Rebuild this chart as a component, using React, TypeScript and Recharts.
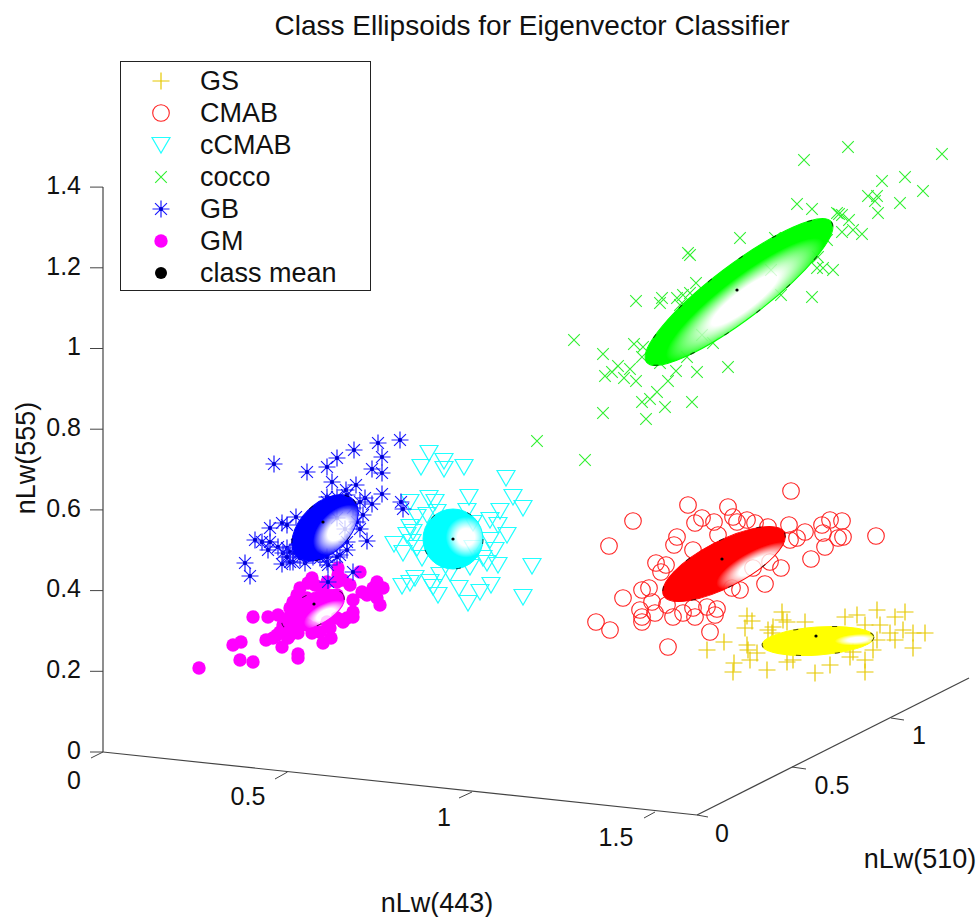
import React from 'react';
import { ScatterChart, Scatter, XAxis, YAxis, ReferenceLine, ReferenceDot, Legend } from 'recharts';

// Values are read from the picture, in the projected plane of the 3-D view:
// [across, up] from the axes' origin, in 1/403.5 of an nLw unit.
const UNIT = 403.5;
const gsPts = [[604,102],[621,110],[644,136],[649,131],[642,124],[679,140],[670,125],[665,122],[684,130],[702,130],[742,135],[754,137],[774,142],[792,135],[802,140],[762,127],[777,127],[787,119],[800,122],[810,119],[822,119],[810,104],[792,112],[774,112],[729,109],[712,114],[770,102],[762,92],[747,95],[727,87],[712,79],[762,80],[690,92],[684,90],[664,82],[647,92],[630,80],[631,89],[645,102],[654,99],[644,107],[680,132],[669,119],[750,100]];
const cmabPts = [[688,261],[585,247],[530,231],[625,245],[599,234],[592,229],[611,230],[630,235],[634,230],[644,232],[652,229],[665,225],[686,227],[727,232],[739,231],[719,227],[702,220],[694,214],[720,219],[773,216],[740,215],[735,214],[722,205],[708,193],[506,206],[574,215],[571,207],[590,202],[615,217],[687,212],[553,189],[563,187],[558,180],[678,184],[667,190],[650,184],[662,168],[629,164],[520,154],[539,162],[546,164],[549,150],[537,142],[564,147],[552,139],[570,135],[580,139],[590,144],[592,135],[604,145],[614,143],[612,137],[539,135],[539,130],[493,130],[507,122],[607,120],[565,105],[637,162]];
const ccmabPts = [[326,299],[341,291],[318,285],[341,283],[361,285],[403,274],[410,255],[366,255],[326,254],[332,250],[307,250],[420,244],[397,241],[364,241],[334,240],[314,235],[307,225],[324,237],[387,232],[395,227],[404,217],[370,229],[291,208],[300,199],[309,210],[314,204],[392,202],[370,204],[387,212],[384,189],[395,187],[429,186],[367,185],[312,174],[299,166],[307,169],[327,170],[337,177],[347,179],[388,167],[335,157],[356,164],[377,160],[365,149],[420,155],[330,165],[380,194],[304,217],[319,194],[310,220]];
const coccoPts = [[839,598],[745,605],[701,592],[802,575],[779,571],[820,561],[765,556],[774,556],[772,551],[797,549],[775,539],[694,548],[709,543],[736,538],[734,539],[739,537],[746,532],[739,520],[750,522],[759,518],[637,514],[672,514],[724,512],[585,499],[587,497],[715,495],[714,484],[720,484],[730,482],[668,482],[593,469],[709,455],[678,457],[533,451],[559,454],[557,449],[574,454],[580,457],[587,459],[577,447],[471,412],[599,417],[531,408],[540,405],[539,395],[500,398],[625,385],[515,386],[527,383],[502,376],[509,380],[521,374],[533,371],[573,381],[594,380],[565,371],[554,360],[539,350],[547,353],[562,345],[589,350],[500,339],[543,333],[434,311],[482,292],[584,395],[557,389],[610,409]];
const gbPts = [[297,312],[275,309],[251,302],[279,295],[234,294],[171,288],[224,285],[269,283],[204,280],[279,279],[229,270],[253,267],[243,262],[279,258],[269,248],[262,254],[224,255],[298,250],[300,243],[193,235],[179,229],[167,224],[184,227],[260,237],[234,234],[242,223],[257,223],[152,212],[159,210],[167,210],[264,211],[165,202],[175,205],[184,204],[190,199],[180,199],[179,188],[142,189],[147,176],[190,190],[202,189],[224,190],[225,187],[237,197],[244,210],[250,180],[225,170],[217,194],[187,190],[187,200],[197,194],[210,195],[224,195],[234,195],[244,202],[194,207],[184,195],[250,244],[257,250],[234,255],[244,257],[224,250],[254,230]];
const gmPts = [[96,84],[130,107],[138,110],[137,92],[150,90],[195,94],[195,98],[163,112],[174,117],[179,105],[220,109],[228,114],[150,135],[165,135],[175,137],[194,157],[209,174],[205,169],[235,184],[240,172],[257,180],[274,170],[280,164],[259,160],[277,147],[244,134],[250,152],[234,157],[220,164],[209,119],[195,119],[224,130],[234,134],[189,130],[187,144],[197,150],[177,120],[185,114],[204,127],[224,170],[234,170],[247,167],[204,154],[190,150],[220,154],[250,140],[264,157],[270,164],[240,130],[227,124],[217,120],[210,124],[180,127],[187,117],[170,114],[197,127],[250,135],[274,154],[235,177],[212,167],[197,164]];
const meanPts = [[713,116],[619,193],[350,213],[634,462],[220,230],[211,148]];

const classNames = ['GS', 'CMAB', 'cCMAB', 'cocco', 'GB', 'GM', 'class mean'];
const ellipseCentres = [[715,111],[621,188],[350,213],[636,460],[222,224],[210,142]];
const ellipseColors = ['#ffff00', '#ff0000', '#00ffff', '#00ff00', '#0000ff', '#ff00ff'];
const ellipseRadii = [[56,14],[68,23],[30,30],[116,27],[40,24.5],[34,16]];
const ellipseAngles = [4,27.5,0,37.2,45,26];
const ellipseGlows = [[0.85,0.55,0.2],[0.7,0.85,0.32],[0.72,0.47,0.34],[0.5,0.68,0.42],[0.6,0.72,0.38],[0.64,0.81,0.35]];

const zTicks = [0, 0.2, 0.4, 0.6, 0.8, 1, 1.2, 1.4];
const axisLines = [[[0,0],[594,-63]],[[594,-63],[866,74]]];
const axisTicks = [[[0,0],[-12,-6]],[[184.5,-20],[172,-27]],[[369,-40],[356,-46]],[[552,-60],[541,-66]],[[594,-63],[605,-65]],[[689,-15],[703,-17]],[[788,34],[801,32]]];
const sideTickLabels = [['0',-29,-28],['0.5',145,-44],['1',341,-65],['1.5',513,-85],['0',619,-81],['0.5',729,-33],['1',816,17]];
const axisTitles = [['nLw(443)',334,-150,0],['nLw(510)',817,-106,0],['nLw(555)',-78,294,-90]];
const titleText = 'Class Ellipsoids for Eigenvector Classifier';

const toRows = (pts: number[][]) => pts.map(([a, b]) => ({ u: a / UNIT, v: b / UNIT }));
const FONT = '"Liberation Sans", Arial, sans-serif';
const INK = '#111';

const Plus = ({ cx, cy, c = '#e6c800', s = 8.5 }: any) => (
  <path d={`M${cx - s} ${cy}H${cx + s}M${cx} ${cy - s}V${cy + s}`} stroke={c} strokeWidth={1.2} fill="none" />
);
const Ring = ({ cx, cy, c = '#ff2020', r = 8.3 }: any) => <circle cx={cx} cy={cy} r={r} stroke={c} strokeWidth={1.1} fill="none" />;
const Tri = ({ cx, cy, c = '#20ffff' }: any) => (
  <path d={`M${cx - 9} ${cy - 7.5}H${cx + 9}L${cx} ${cy + 8}Z`} stroke={c} strokeWidth={1.2} fill="none" />
);
const Cross = ({ cx, cy, c = '#30f030', s = 5.8 }: any) => (
  <path d={`M${cx - s} ${cy - s}L${cx + s} ${cy + s}M${cx - s} ${cy + s}L${cx + s} ${cy - s}`} stroke={c} strokeWidth={1.1} fill="none" />
);
const Star = ({ cx, cy, c = '#1a1aff', s = 8.5 }: any) => {
  const d = s * 0.7;
  return (
    <g>
      <path
        d={`M${cx - s} ${cy}H${cx + s}M${cx} ${cy - s}V${cy + s}M${cx - d} ${cy - d}L${cx + d} ${cy + d}M${cx - d} ${cy + d}L${cx + d} ${cy - d}`}
        stroke={c} strokeWidth={1.2} fill="none"
      />
      <circle cx={cx} cy={cy} r={2} fill="#0000d0" />
    </g>
  );
};
const Dot = ({ cx, cy, c = '#ff00ff', r = 6.7 }: any) => <circle cx={cx} cy={cy} r={r} fill={c} />;
const Mean = ({ cx, cy }: any) => <circle cx={cx} cy={cy} r={1.6} fill="#000" />;

const makeEllipse = (i: number) => (p: any) => {
  const [rx, ry] = ellipseRadii[i];
  const [gx, gy, gr] = ellipseGlows[i];
  const color = ellipseColors[i];
  const id = `glow${i}`;
  return (
    <g transform={`translate(${p.cx},${p.cy}) rotate(${-ellipseAngles[i]})`}>
      <defs>
        <radialGradient id={id} cx={gx} cy={gy} r={gr} fx={gx} fy={gy}>
          <stop offset="0%" stopColor="#ffffff" stopOpacity={0.8} />
          <stop offset="42%" stopColor="#ffffff" stopOpacity={0.8} />
          <stop offset="100%" stopColor={color} stopOpacity={1} />
        </radialGradient>
      </defs>
      <ellipse rx={rx} ry={ry} fill={`url(#${id})`} stroke={color} strokeWidth={1} />
      <ellipse rx={rx} ry={ry} fill="none" stroke="#000" strokeOpacity={0.7} strokeWidth={1} strokeDasharray="5 34" />
    </g>
  );
};

const legendMarks = [Plus, Ring, Tri, Cross, Star, Dot, Dot];

const LegendBox = () => (
  <div
    style={{
      width: 251, height: 230, boxSizing: 'border-box', border: '1px solid #222', background: '#fff',
      position: 'relative',
    }}
  >
    <svg width={249} height={228} style={{ position: 'absolute', left: 0, top: 0 }}>
      {classNames.map((name, i) => {
        const M: any = legendMarks[i];
        const y = 19 + i * 32;
        return i === 6 ? <Dot key={name} cx={40} cy={y} c="#000" r={6} /> : <M key={name} cx={40} cy={y} />;
      })}
      {classNames.map((name, i) => (
        <text key={name} x={79} y={19 + i * 32 + 9} fontSize={27} fontFamily={FONT} fill={INK}>{name}</text>
      ))}
    </svg>
  </div>
);

const seriesList: [string, number[][], any][] = [
  ['GS', gsPts, Plus],
  ['CMAB', cmabPts, Ring],
  ['cCMAB', ccmabPts, Tri],
  ['cocco', coccoPts, Cross],
  ['GM', gmPts, Dot],
  ['GB', gbPts, Star],
];

const inUnits = (p: number[]) => ({ x: p[0] / UNIT, y: p[1] / UNIT });
const label = (value: string, angle = 0, size = 25) => ({
  value, position: 'center' as const, angle, fontSize: size, fill: INK, fontFamily: FONT,
});

export default function App() {
  return (
    <div style={{ position: 'absolute', left: 0, top: 0, width: 976, height: 917, background: '#fff' }}>
      <ScatterChart width={976} height={917} margin={{ top: 0, right: 0, bottom: 0, left: 0 }}>
        <XAxis type="number" dataKey="u" domain={[0, 873 / UNIT]} hide />
        <YAxis
          type="number" dataKey="v" width={103} domain={[-165 / UNIT, 752 / UNIT]} ticks={zTicks}
          axisLine={false} tickSize={13} tickMargin={9} interval={0}
          tickLine={{ stroke: '#444' }} tick={{ fontSize: 25, fill: INK, fontFamily: FONT, dy: -2 }}
        />
        <ReferenceLine segment={[{ x: 0, y: 0 }, { x: 0, y: 1.4 }]} stroke="#444" strokeWidth={1.2} ifOverflow="visible" />
        {axisLines.map((l, i) => (
          <ReferenceLine key={i} segment={[inUnits(l[0]), inUnits(l[1])]} stroke="#444" strokeWidth={1.2} ifOverflow="visible" />
        ))}
        {axisTicks.map((l, i) => (
          <ReferenceLine key={i} segment={[inUnits(l[0]), inUnits(l[1])]} stroke="#444" strokeWidth={1} ifOverflow="visible" />
        ))}
        {seriesList.map(([name, pts, M]) => (
          <Scatter key={name} name={name} data={toRows(pts)} isAnimationActive={false}
            shape={(p: any) => <M cx={p.cx} cy={p.cy} />} />
        ))}
        {ellipseCentres.map((c, i) => (
          <Scatter key={i} name={`ellipse ${classNames[i]}`} data={toRows([c])} isAnimationActive={false} shape={makeEllipse(i)} legendType="none" />
        ))}
        <Scatter name="class mean" data={toRows(meanPts)} isAnimationActive={false} shape={(p: any) => <Mean cx={p.cx} cy={p.cy} />} />
        {sideTickLabels.map(([t, a, b], i) => (
          <ReferenceDot key={i} x={(a as number) / UNIT} y={(b as number) / UNIT} r={0} fill="none" stroke="none" ifOverflow="visible" label={label(t as string)} />
        ))}
        {axisTitles.map(([t, a, b, ang], i) => (
          <ReferenceDot key={i} x={(a as number) / UNIT} y={(b as number) / UNIT} r={0} fill="none" stroke="none" ifOverflow="visible" label={label(t as string, ang as number, 27)} />
        ))}
        <ReferenceDot x={429 / UNIT} y={727 / UNIT} r={0} fill="none" stroke="none" ifOverflow="visible" label={label(titleText, 0, 28)} />
        <Legend
          layout="vertical" align="center" verticalAlign="middle" content={() => <LegendBox />}
          wrapperStyle={{ position: 'absolute', left: 120, top: 61, width: 251, height: 230, margin: 0 }}
        />
      </ScatterChart>
    </div>
  );
}
